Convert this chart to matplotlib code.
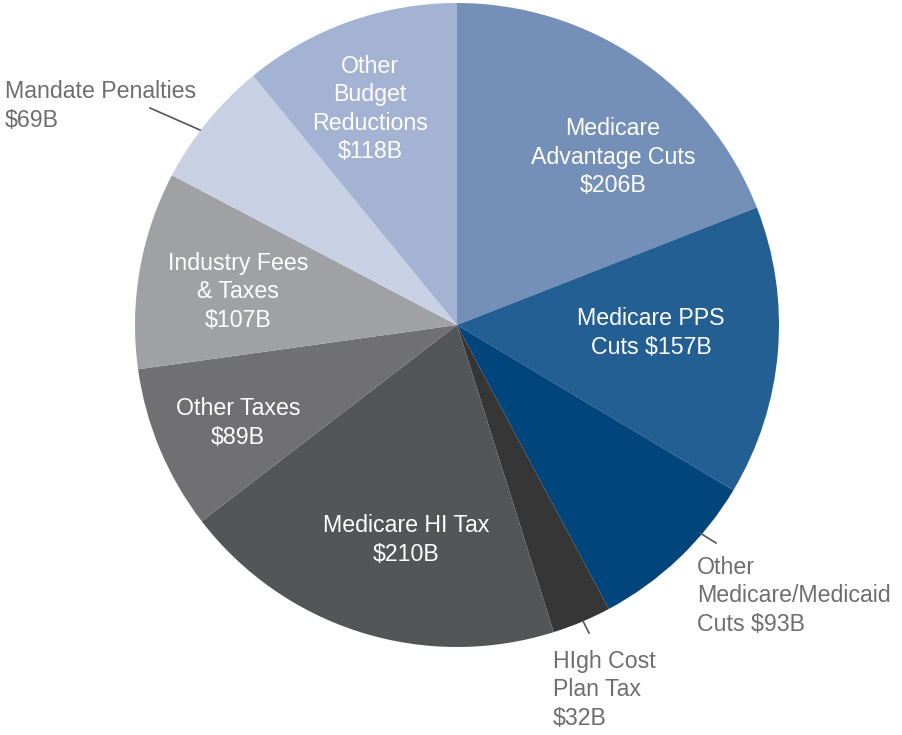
import matplotlib.pyplot as plt

labels = ["Medicare\nAdvantage Cuts\n$206B", "Medicare PPS\nCuts $157B",
          "Other\nMedicare/Medicaid\nCuts $93B", "HIgh Cost\nPlan Tax\n$32B",
          "Medicare HI Tax\n$210B", "Other Taxes\n$89B",
          "Industry Fees\n& Taxes\n$107B", "Mandate Penalties\n$69B",
          "Other\nBudget\nReductions\n$118B"]
values = [206, 157, 93, 32, 210, 89, 107, 69, 118]
colors = ["#7590B8", "#245F93", "#01457D", "#363636", "#545557",
          "#707073", "#A0A1A4", "#C8D1E4", "#A4B3D3"]

W, H = 903, 735
plt.rcParams['font.family'] = ['Liberation Sans', 'DejaVu Sans']

fig = plt.figure(figsize=(W / 100, H / 100), dpi=100)
ax = fig.add_axes([0, 0, 1, 1])

cx, cy, r = 457, H - 325, 322
ax.pie(values, colors=colors, startangle=90, counterclock=False,
       center=(cx, cy), radius=r, frame=True,
       wedgeprops=dict(linewidth=0, antialiased=True))
ax.set_xlim(0, W)
ax.set_ylim(0, H)
ax.set_aspect('equal')
ax.axis('off')

fs = 16.7
ls = 1.31
# labels inside slices (pixel positions, y from top)
inside = {0: (613, 157), 1: (651, 333), 4: (406, 540), 5: (238, 423),
          6: (238, 292), 8: (370, 109)}
for i, (x, y) in inside.items():
    ax.text(x, H - y, labels[i], color="white", fontsize=fs, ha="center",
            va="center", linespacing=ls)

# labels outside with leader lines
grey = "#6E6E70"
outside = {7: (5, 106, [(150, 108), (200, 130)]),
           2: (697, 596, [(700, 533), (716, 543)]),
           3: (553, 690, [(583, 621), (589, 633)])}
for i, (x, y, line) in outside.items():
    ax.text(x, H - y, labels[i], color=grey, fontsize=fs, ha="left",
            va="center", linespacing=ls)
    ax.plot([p[0] for p in line], [H - p[1] for p in line], color="#555555",
            linewidth=1.2)

fig.savefig("out.png", dpi=100)
